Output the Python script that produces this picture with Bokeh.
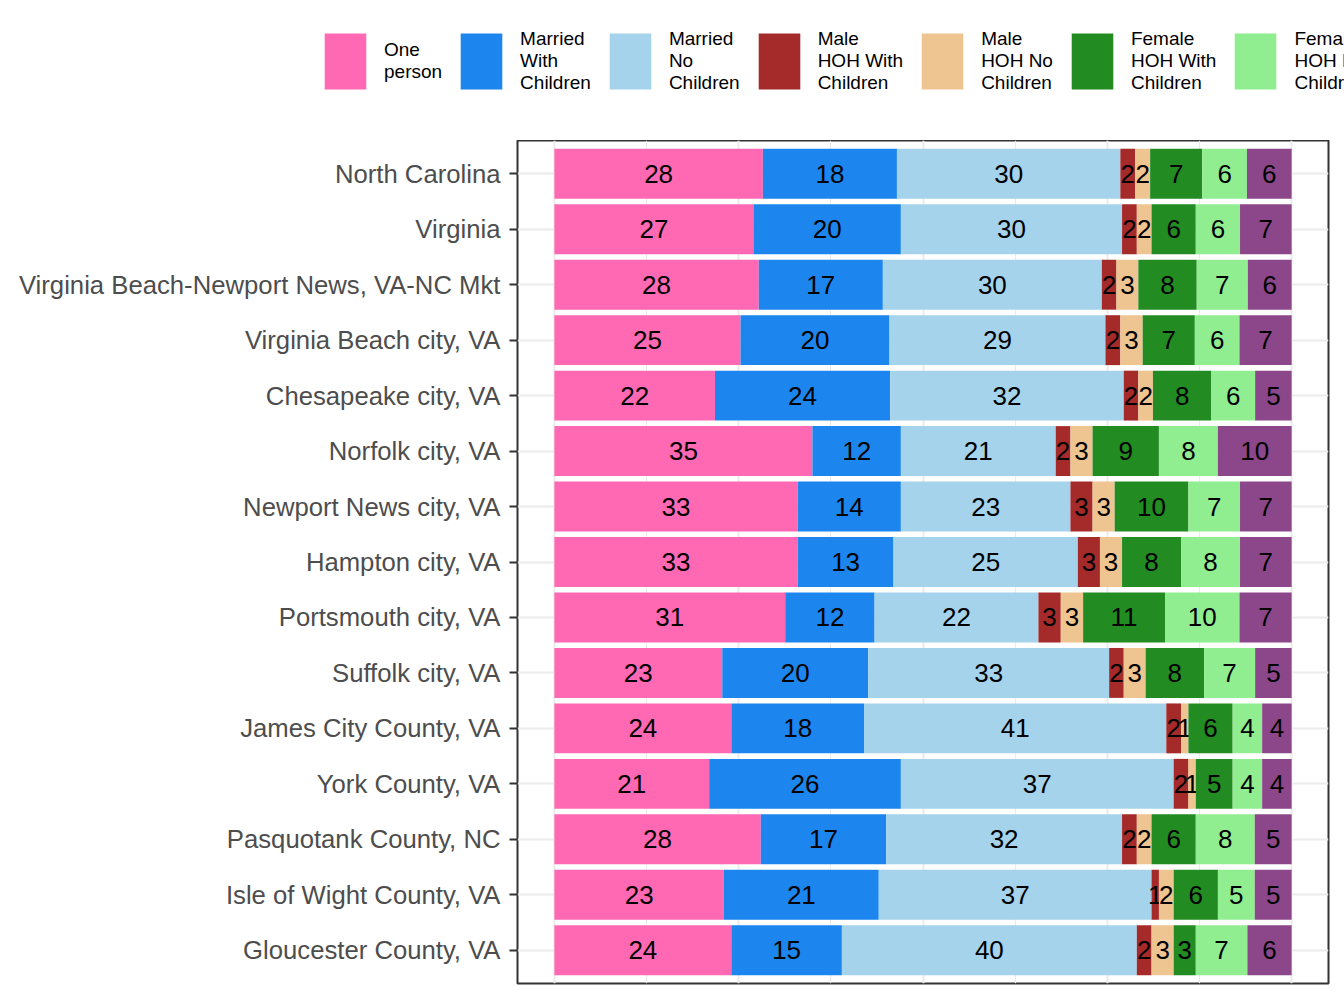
from bokeh.plotting import figure
from bokeh.models import FactorRange, Range1d, FixedTicker, Legend, LegendItem, ColumnDataSource
from bokeh.core.properties import value
from bokeh.embed import file_html
from bokeh.resources import INLINE

# areas, top to bottom
areas = ["North Carolina", "Virginia", "Virginia Beach-Newport News, VA-NC Mkt",
         "Virginia Beach city, VA", "Chesapeake city, VA", "Norfolk city, VA",
         "Newport News city, VA", "Hampton city, VA", "Portsmouth city, VA",
         "Suffolk city, VA", "James City County, VA", "York County, VA",
         "Pasquotank County, NC", "Isle of Wight County, VA", "Gloucester County, VA"]

# household type shares (%), one list per type, same order as areas
one_person =        [28, 27, 28, 25, 22, 35, 33, 33, 31, 23, 24, 21, 28, 23, 24]
married_kids =      [18, 20, 17, 20, 24, 12, 14, 13, 12, 20, 18, 26, 17, 21, 15]
married_no_kids =   [30, 30, 30, 29, 32, 21, 23, 25, 22, 33, 41, 37, 32, 37, 40]
male_hoh_kids =     [2, 2, 2, 2, 2, 2, 3, 3, 3, 2, 2, 2, 2, 1, 2]
male_hoh_no_kids =  [2, 2, 3, 3, 2, 3, 3, 3, 3, 3, 1, 1, 2, 2, 3]
female_hoh_kids =   [7, 6, 8, 7, 8, 9, 10, 8, 11, 8, 6, 5, 6, 6, 3]
female_hoh_no_kids = [6, 6, 7, 6, 6, 8, 7, 8, 10, 7, 4, 4, 8, 5, 7]
non_family =        [6, 7, 6, 7, 5, 10, 7, 7, 7, 5, 4, 4, 5, 5, 6]

series = [one_person, married_kids, married_no_kids, male_hoh_kids,
          male_hoh_no_kids, female_hoh_kids, female_hoh_no_kids, non_family]
labels = ["One\nperson", "Married\nWith\nChildren", "Married\nNo\nChildren",
          "Male\nHOH With\nChildren", "Male\nHOH No\nChildren",
          "Female\nHOH With\nChildren", "Female\nHOH No\nChildren", None]
colors = ["#FF69B4", "#1C86EE", "#A6D3EC", "#A52A2A", "#EEC591",
          "#228B22", "#90EE90", "#8B4789"]

FONT = "Liberation Sans"

# main chart
p = figure(width=1344, height=868, output_backend="svg", toolbar_location=None,
           y_range=FactorRange(factors=list(reversed(areas)), range_padding=0.1,
                               range_padding_units="absolute"),
           x_range=Range1d(-5, 105),
           min_border_left=517, min_border_right=16, min_border_top=0, min_border_bottom=25)

p.xaxis.visible = False
p.xgrid.ticker = FixedTicker(ticks=[0, 25, 50, 75, 100], minor_ticks=[12.5, 37.5, 62.5, 87.5])
p.xgrid.grid_line_color = "#EBEBEB"
p.xgrid.grid_line_width = 2
p.xgrid.minor_grid_line_color = "#EBEBEB"
p.xgrid.minor_grid_line_width = 1
p.ygrid.grid_line_color = "#EBEBEB"
p.ygrid.grid_line_width = 2

p.yaxis.axis_line_color = None
p.yaxis.major_tick_line_color = "#333333"
p.yaxis.major_tick_line_width = 2
p.yaxis.major_tick_out = 8
p.yaxis.major_tick_in = 0
p.yaxis.major_label_standoff = 9
p.yaxis.major_label_text_font = FONT
p.yaxis.major_label_text_font_size = "25.7px"
p.yaxis.major_label_text_color = "#4D4D4D"

p.outline_line_color = "#333333"
p.outline_line_width = 2

# legend strip on top, a separate root so its frame spans the whole width
lg = figure(width=1344, height=140, output_backend="svg", toolbar_location=None,
            x_range=Range1d(0, 1), y_range=Range1d(0, 1),
            min_border_left=0, min_border_right=0, min_border_top=0, min_border_bottom=0)
lg.axis.visible = False
lg.grid.visible = False
lg.outline_line_color = None

totals = [sum(s[i] for s in series) for i in range(len(areas))]
left = [0.0] * len(areas)
items = []
for vals, lab, col in zip(series, labels, colors):
    share = [v / t * 100 for v, t in zip(vals, totals)]
    right = [l + s for l, s in zip(left, share)]
    src = ColumnDataSource(dict(area=areas, left=left, right=right,
                                mid=[(l + r) / 2 for l, r in zip(left, right)],
                                txt=[str(v) for v in vals]))
    p.hbar(y="area", left="left", right="right", height=0.9, source=src,
           fill_color=col, line_color=None)
    p.text(x="mid", y="area", text="txt", source=src, text_align="center",
           text_baseline="middle", text_font=value(FONT), text_font_size="26px",
           text_color="black")
    if lab:
        # zero-width key glyph, only used to draw the legend swatch
        key = lg.hbar(y=[0], left=[0], right=[0], height=0.5, fill_color=col, line_color=None)
        items.append(LegendItem(label=lab, renderers=[key]))
    left = right

legend = Legend(items=items, orientation="horizontal", location=(319, 44),
                glyph_width=52, glyph_height=70, label_standoff=13, spacing=13,
                padding=0, margin=0, border_line_alpha=0, background_fill_alpha=0,
                label_text_font=FONT, label_text_font_size="19px",
                label_text_color="black")
lg.add_layout(legend)

open("out.html", "w").write(file_html([lg, p], INLINE))
